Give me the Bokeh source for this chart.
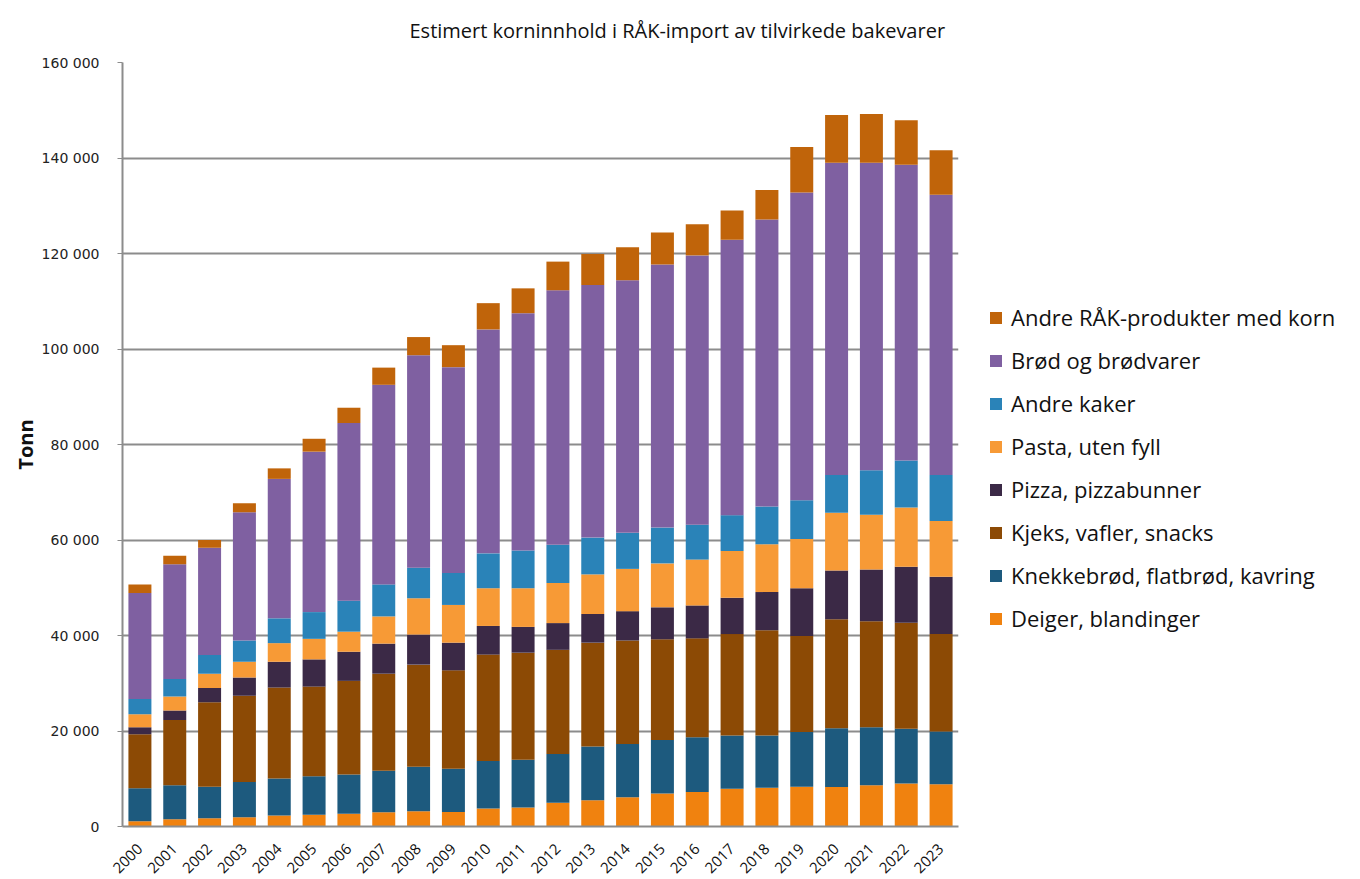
from bokeh.plotting import figure
from bokeh.models import (ColumnDataSource, FactorRange, Range1d, Legend, LegendItem,
                          CustomJSTickFormatter, SingleIntervalTicker)
from bokeh.embed import file_html
from bokeh.resources import INLINE
import math

years = [str(y) for y in range(2000, 2024)]

series_names = [
    "Deiger, blandinger",
    "Knekkebrød, flatbrød, kavring",
    "Kjeks, vafler, snacks",
    "Pizza, pizzabunner",
    "Pasta, uten fyll",
    "Andre kaker",
    "Brød og brødvarer",
    "Andre RÅK-produkter med korn",
]

deiger = [1100, 1500, 1750, 1950, 2300, 2450, 2650, 3000, 3200, 3050, 3750, 4000,
          4950, 5500, 6150, 6900, 7250, 7900, 8100, 8300, 8250, 8650, 9000, 8850]
knekke = [6900, 7150, 6550, 7350, 7750, 8050, 8250, 8700, 9300, 9050, 9950, 10000,
          10250, 11250, 11150, 11200, 11450, 11150, 10950, 11500, 12350, 12150, 11450, 11050]
kjeks = [11300, 13650, 17700, 18100, 19050, 18800, 19600, 20300, 21400, 20600, 22300, 22400,
         21800, 21750, 21650, 21100, 20700, 21250, 22050, 20100, 22800, 22200, 22200, 20400]
pizza = [1500, 2000, 3000, 3800, 5400, 5700, 6100, 6300, 6300, 5800, 6000, 5400,
         5600, 6000, 6150, 6700, 6900, 7600, 8000, 10000, 10200, 10800, 11750, 12000]
pasta = [2700, 2900, 3000, 3300, 3900, 4300, 4200, 5700, 7600, 7900, 7900, 8100,
         8400, 8300, 8850, 9200, 9600, 9800, 10000, 10300, 12100, 11500, 12400, 11700]
andre_kaker = [3200, 3700, 3900, 4450, 5200, 5600, 6500, 6700, 6400, 6700, 7300, 7900,
               8000, 7700, 7550, 7500, 7300, 7500, 7900, 8100, 7900, 9300, 9850, 9600]
brod = [22200, 24000, 22500, 26850, 29200, 33600, 37200, 41800, 44500, 43100, 46900, 49700,
        53300, 52900, 52900, 55100, 56400, 57700, 60100, 64500, 65400, 64400, 61950, 58700]
andre_rak = [1800, 1800, 1600, 1900, 2200, 2700, 3200, 3600, 3800, 4600, 5500, 5200,
             6000, 6500, 6900, 6700, 6500, 6100, 6200, 9500, 10000, 10200, 9300, 9300]

colors = ["#F0820F", "#1D5A7E", "#8C4A05", "#3B2946", "#F79A36", "#2A83B8", "#7F60A1", "#C0640A"]

keys = ["s0", "s1", "s2", "s3", "s4", "s5", "s6", "s7"]
data = dict(year=years)
for k, arr in zip(keys, [deiger, knekke, kjeks, pizza, pasta, andre_kaker, brod, andre_rak]):
    data[k] = arr
source = ColumnDataSource(data)

p = figure(
    x_range=FactorRange(*years),
    y_range=Range1d(0, 160000),
    frame_width=836, frame_height=764,
    output_backend="svg", toolbar_location=None,
    min_border_left=122, min_border_top=62, min_border_right=0, min_border_bottom=30,
)
p.x_range.factor_padding = 0.0
p.x_range.range_padding = 0.0

renderers = p.vbar_stack(keys, x="year", width=0.66, color=colors, source=source,
                         line_color=None)

items = [LegendItem(label=name, renderers=[r]) for name, r in zip(series_names, renderers)]
items = items[::-1]
legend = Legend(items=items, location=(30, 193))
legend.label_text_font = "Open Sans"
legend.label_text_font_size = "22px"
legend.label_text_color = "#111111"
legend.glyph_width = 15
legend.glyph_height = 15
legend.spacing = 13
legend.label_standoff = 8
legend.border_line_color = None
legend.background_fill_alpha = 0
legend.margin = 0
legend.padding = 0
p.add_layout(legend, "right")

p.title.text = "Estimert korninnhold i RÅK-import av tilvirkede bakevarer"
p.title.text_font = "Open Sans"
p.title.text_font_size = "20px"
p.title.text_font_style = "normal"
p.title.text_color = "#111111"
p.title.align = "left"
p.title.offset = 287
p.title.standoff = 33
p.title.vertical_align = "top"

p.outline_line_color = None
p.xgrid.grid_line_color = None
p.ygrid.grid_line_color = "#8C8C8C"
p.ygrid.grid_line_width = 2
p.yaxis.ticker = SingleIntervalTicker(interval=20000)
p.yaxis.formatter = CustomJSTickFormatter(
    code='return tick.toString().replace(/\\B(?=(\\d{3})+(?!\\d))/g, " ");')
p.yaxis.major_label_text_font = "DejaVu Sans"
p.yaxis.major_label_text_font_size = "14px"
p.yaxis.major_label_text_color = "#222222"
p.yaxis.major_label_standoff = 18
p.yaxis.major_tick_in = 0
p.yaxis.major_tick_out = 5
p.yaxis.minor_tick_line_color = None
p.yaxis.major_tick_line_color = "#8C8C8C"
p.yaxis.axis_line_color = "#8C8C8C"
p.yaxis.axis_line_width = 2
p.yaxis.axis_label = "Tonn"
p.yaxis.axis_label_text_font = "Open Sans"
p.yaxis.axis_label_text_font_size = "20px"
p.yaxis.axis_label_text_font_style = "bold"
p.yaxis.axis_label_text_color = "#111111"
p.yaxis.axis_label_standoff = 0

p.xaxis.major_label_orientation = math.pi / 4
p.xaxis.major_label_text_font = "Open Sans"
p.xaxis.major_label_text_font_size = "15px"
p.xaxis.major_label_text_color = "#111111"
p.xaxis.major_tick_line_color = None
p.xaxis.axis_line_color = "#8C8C8C"
p.xaxis.axis_line_width = 2
p.xaxis.major_label_standoff = 14

open("out.html", "w").write(file_html(p, INLINE))
